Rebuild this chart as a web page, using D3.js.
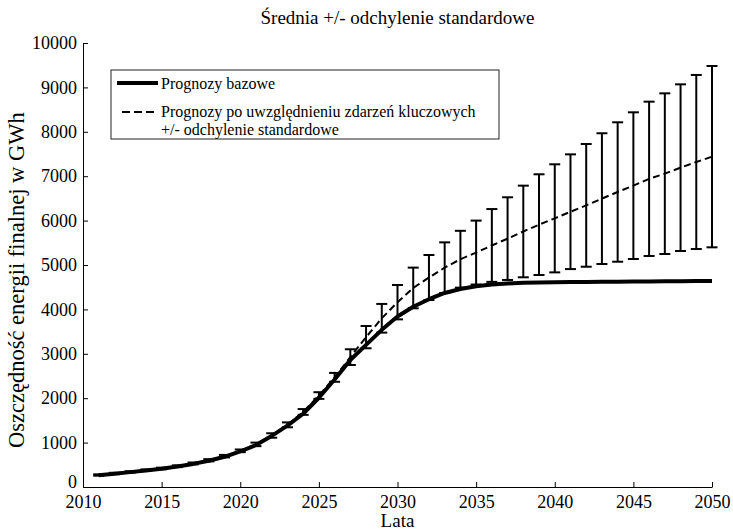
<!DOCTYPE html>
<html>
<head>
<meta charset="utf-8">
<script src="https://cdn.jsdelivr.net/npm/d3@7"></script>
<style>
  html, body { margin: 0; padding: 0; background: #fff; }
  svg text { font-family: "Liberation Serif", "DejaVu Serif", "Times New Roman", Times, serif; fill: #000; }
</style>
</head>
<body>
<svg id="chart" width="733" height="530"></svg>
<script>
// Years of the forecast horizon
const years = d3.range(2011, 2051);

// Baseline forecast (GWh)
const baseline = [
  265, 300, 335, 370, 410, 460, 520, 590, 680, 800,
  946, 1150, 1381, 1650, 2010, 2420, 2860, 3200, 3540, 3840,
  4060, 4230, 4370, 4460, 4520, 4560, 4585, 4600, 4608, 4613,
  4616, 4619, 4622, 4625, 4627, 4630, 4633, 4635, 4638, 4640
];

// Mean forecast including key events (GWh)
const meanKey = [
  270, 305, 340, 378, 418, 468, 530, 602, 695, 815,
  960, 1160, 1400, 1690, 2060, 2470, 2925, 3375, 3800, 4163,
  4483, 4718, 4940, 5130, 5280, 5440, 5594, 5755, 5909, 6051,
  6200, 6343, 6495, 6644, 6787, 6941, 7057, 7192, 7320, 7440
];

// Standard deviation of the key-event forecast (GWh)
const stdKey = [
  15, 15, 15, 18, 18, 20, 22, 25, 28, 30,
  40, 50, 55, 65, 75, 100, 177, 251, 323, 387,
  458, 507, 570, 640, 720, 820, 931, 1032, 1134, 1217,
  1292, 1382, 1472, 1570, 1652, 1738, 1809, 1877, 1960, 2042
];

const xTicks = [2010, 2015, 2020, 2025, 2030, 2035, 2040, 2045, 2050];
const yTicks = [0, 1000, 2000, 3000, 4000, 5000, 6000, 7000, 8000, 9000, 10000];

const titleText = "Średnia +/- odchylenie standardowe";
const xLabel = "Lata";
const yLabel = "Oszczędność energii finalnej w GWh";
const legendLabels = [
  "Prognozy bazowe",
  "Prognozy po uwzględnieniu zdarzeń kluczowych",
  "+/- odchylenie standardowe"
];

const rows = years.map((y, i) => ({ year: y, base: baseline[i], mean: meanKey[i], sd: stdKey[i] }));

const serif = "'Liberation Serif', 'DejaVu Serif', 'Times New Roman', Times, serif";
const svg = d3.select("#chart");
const plot = { left: 83, right: 712, top: 43, bottom: 487 };

const x = d3.scaleLinear().domain([2010, 2050]).range([plot.left, plot.right]);
const y = d3.scaleLinear().domain([0, 10000]).range([plot.bottom, plot.top]);

// Axes with inward ticks, no box
const xAxis = d3.axisBottom(x).tickValues(xTicks).tickFormat(d3.format("d"))
  .tickSizeInner(-5).tickSizeOuter(0).tickPadding(8);
const yAxis = d3.axisLeft(y).tickValues(yTicks).tickFormat(d3.format("d"))
  .tickSizeInner(-5).tickSizeOuter(0).tickPadding(6);

const gx = svg.append("g").attr("transform", `translate(0,${plot.bottom})`).call(xAxis);
const gy = svg.append("g").attr("transform", `translate(${plot.left},0)`).call(yAxis);
[gx, gy].forEach(g => {
  g.attr("font-family", serif).attr("font-size", 18);
  g.selectAll("path, line").attr("stroke", "#000").attr("stroke-width", 1);
  g.selectAll("text").attr("fill", "#000");
});
// seat the zero label on the axis line so it clears the first year label
gy.selectAll(".tick text").filter(d => d === 0).attr("dy", "0em");

// Error bars (mean +/- standard deviation)
const capHalf = 5.5;
const bars = svg.append("g").attr("stroke", "#000").attr("stroke-width", 2).attr("fill", "none");
rows.forEach(d => {
  const cx = x(d.year);
  const yTop = y(d.mean + d.sd);
  const yBot = y(d.mean - d.sd);
  bars.append("line").attr("x1", cx).attr("x2", cx).attr("y1", yTop).attr("y2", yBot);
  bars.append("line").attr("x1", cx - capHalf).attr("x2", cx + capHalf).attr("y1", yTop).attr("y2", yTop);
  bars.append("line").attr("x1", cx - capHalf).attr("x2", cx + capHalf).attr("y1", yBot).attr("y2", yBot);
});

// Mean key-event forecast (dashed)
svg.append("path")
  .datum(rows)
  .attr("fill", "none")
  .attr("stroke", "#000")
  .attr("stroke-width", 2)
  .attr("stroke-dasharray", "7,4")
  .attr("d", d3.line().x(d => x(d.year)).y(d => y(d.mean)));

// Baseline forecast (thick solid)
svg.append("path")
  .datum(rows)
  .attr("fill", "none")
  .attr("stroke", "#000")
  .attr("stroke-width", 4)
  .attr("stroke-linejoin", "round")
  .attr("d", d3.line().x(d => x(d.year)).y(d => y(d.base)));

// Title
svg.append("text")
  .attr("x", (plot.left + plot.right) / 2)
  .attr("y", 24)
  .attr("text-anchor", "middle")
  .attr("font-family", serif)
  .attr("font-size", 19)
  .text(titleText);

// Axis labels
svg.append("text")
  .attr("x", (plot.left + plot.right) / 2)
  .attr("y", 527)
  .attr("text-anchor", "middle")
  .attr("font-family", serif)
  .attr("font-size", 19)
  .text(xLabel);

svg.append("text")
  .attr("transform", "translate(24,448) rotate(-90)")
  .attr("text-anchor", "start")
  .attr("font-family", serif)
  .attr("font-size", 22.5)
  .text(yLabel);

// Legend
const legend = svg.append("g");
legend.append("rect")
  .attr("x", 111).attr("y", 70).attr("width", 388).attr("height", 69)
  .attr("fill", "#fff").attr("stroke", "#222").attr("stroke-width", 1);
legend.append("line")
  .attr("x1", 117).attr("x2", 158).attr("y1", 83).attr("y2", 83)
  .attr("stroke", "#000").attr("stroke-width", 4);
legend.append("line")
  .attr("x1", 122).attr("x2", 158).attr("y1", 112).attr("y2", 112)
  .attr("stroke", "#000").attr("stroke-width", 2).attr("stroke-dasharray", "8,4");
const legendY = [89, 117, 135];
legendLabels.forEach((t, i) => {
  legend.append("text")
    .attr("x", 161).attr("y", legendY[i])
    .attr("font-family", serif)
    .attr("font-size", 16)
    .text(t);
});
</script>
</body>
</html>
